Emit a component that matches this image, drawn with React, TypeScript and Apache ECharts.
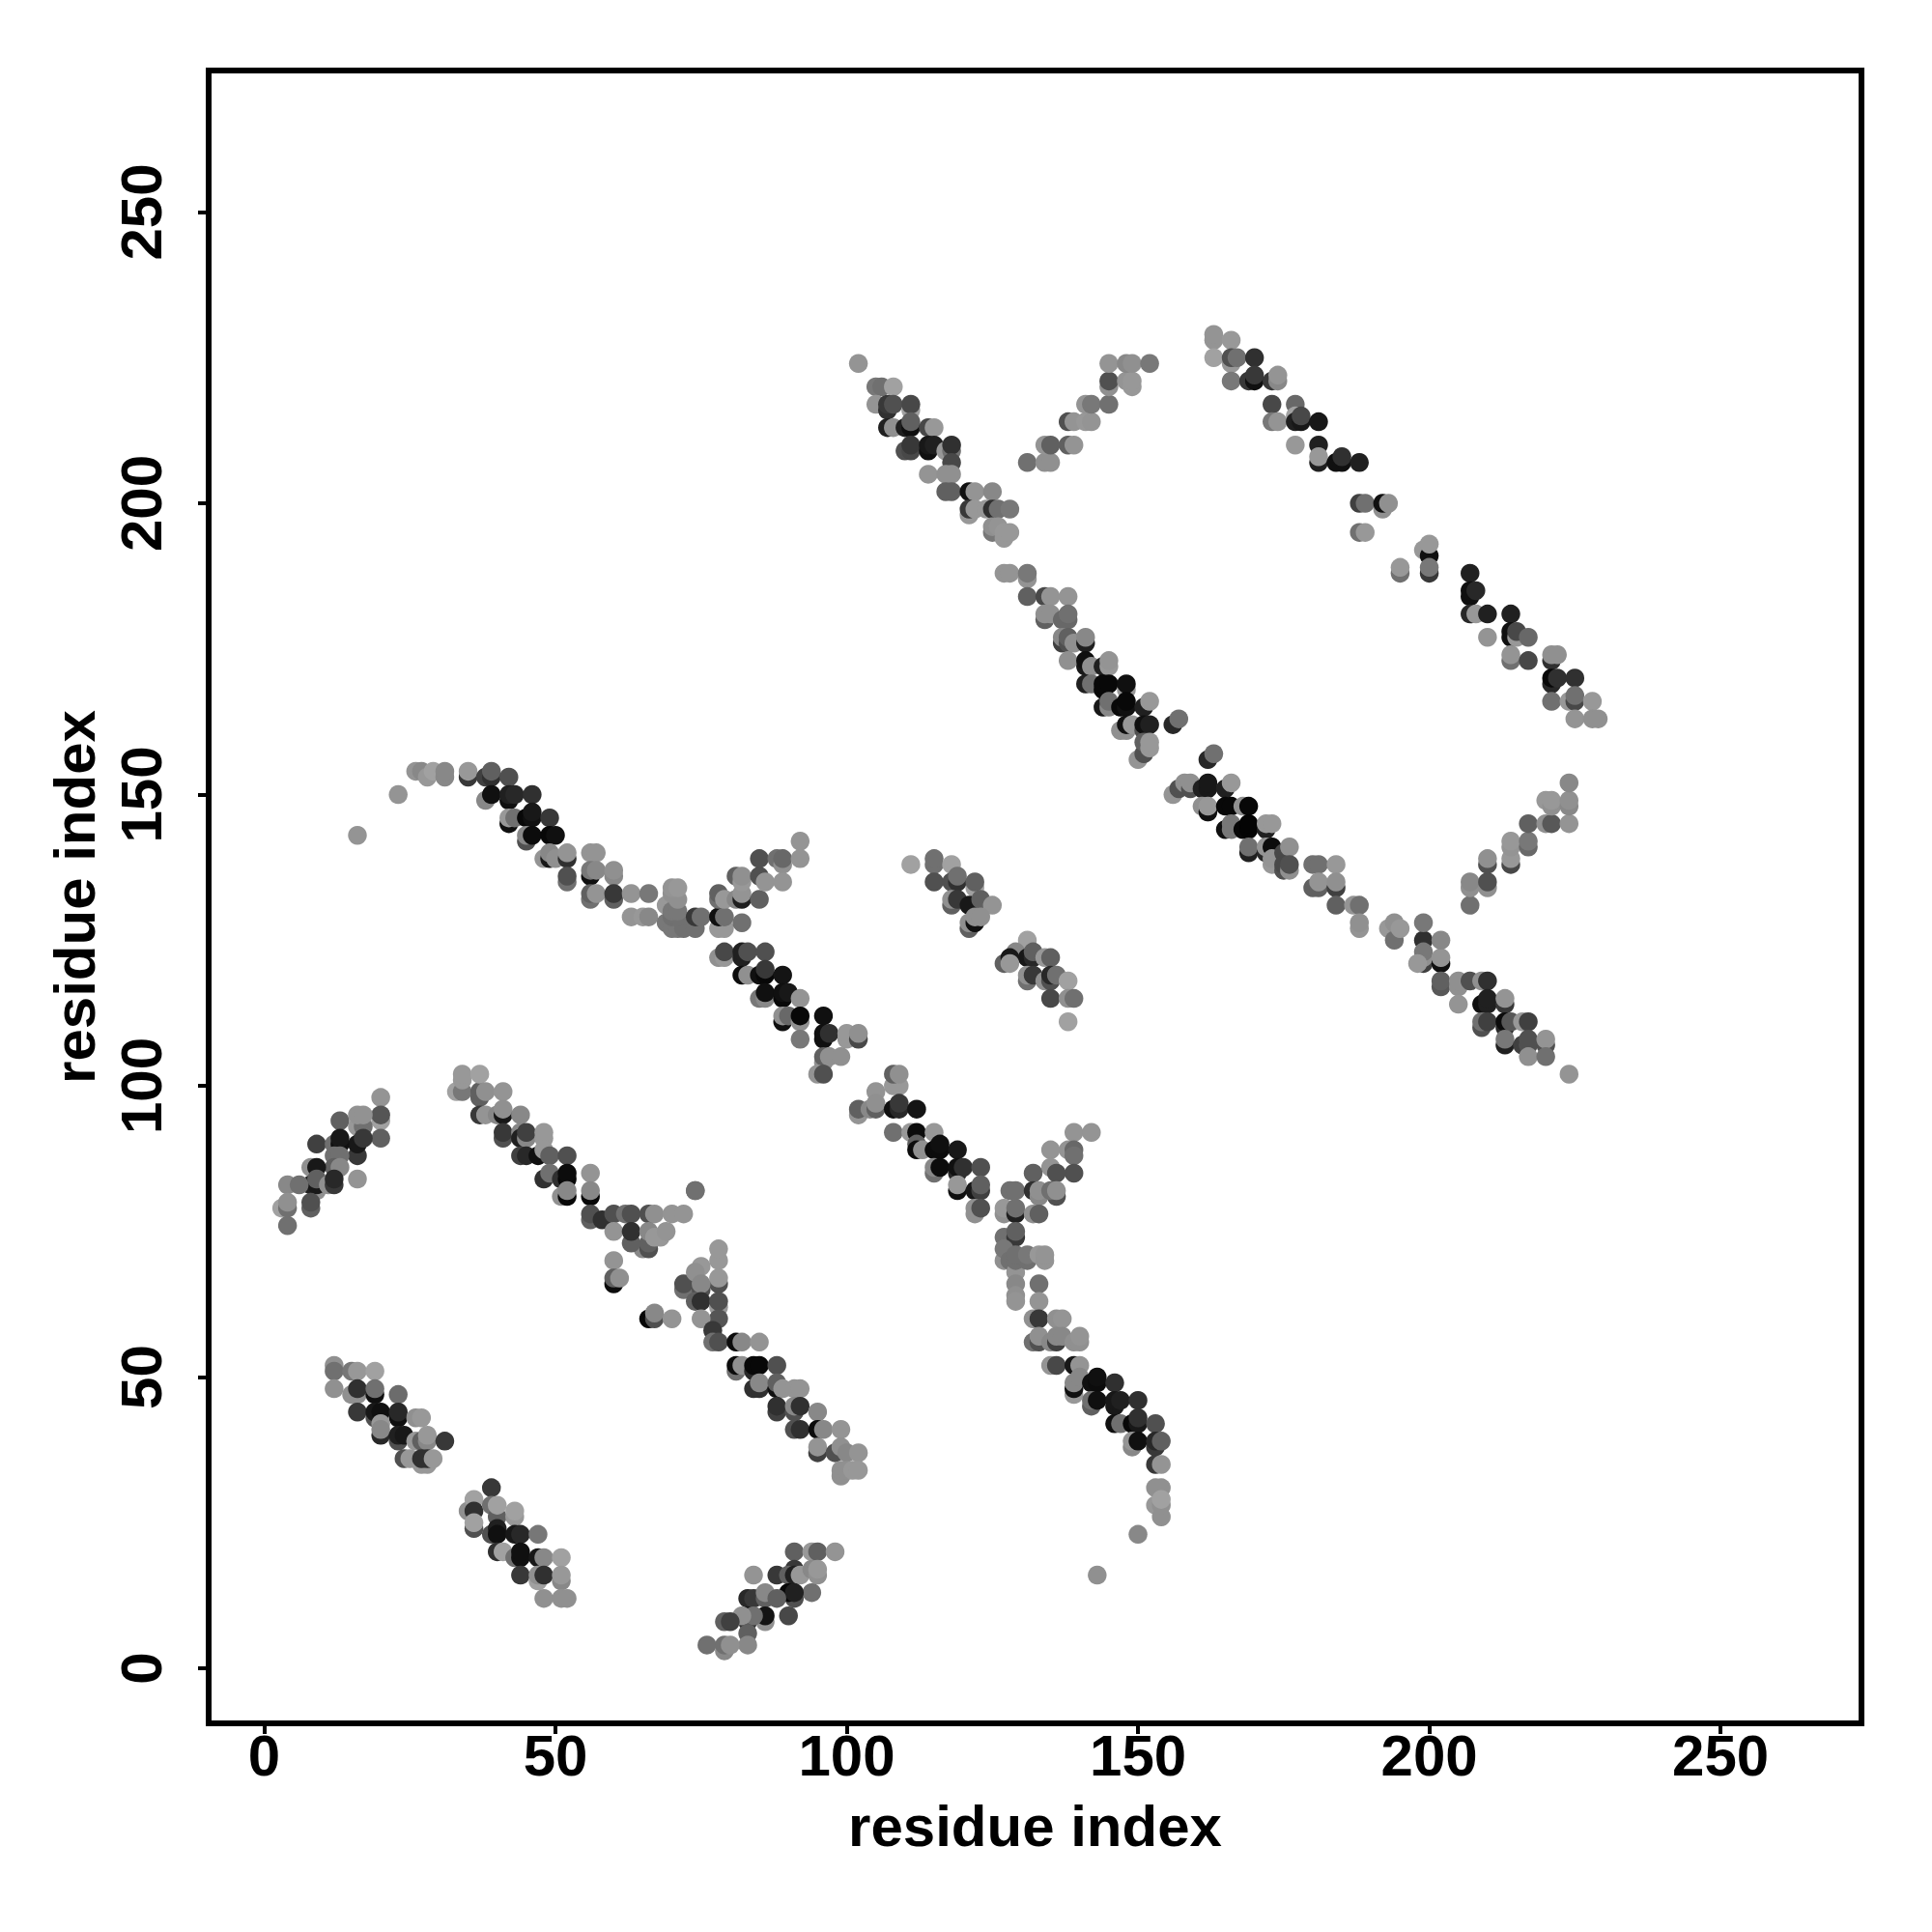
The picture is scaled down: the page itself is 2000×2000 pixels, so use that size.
import React, { useEffect, useRef } from "react";
import * as echarts from "echarts";

const tickValues = [0, 50, 100, 150, 200, 250];
const axisTitle = "residue index";

// each point: [residue i, residue j, grey level]
const clusterA = [[12,52,0x88],[12,51,0x70],[12,48,0x88],[15,51,0x77],[16,51,0x90],[19,51,0x99],[15,47,0x88],[16,47,0x88],[16,48,0x30],[19,47,0x10],[19,48,0x70],[23,47,0x6c],[16,44,0x38],[19,43,0x50],[19,44,0x18],[20,44,0x10],[23,43,0x10],[23,44,0x28],[20,40,0x28],[20,42,0x90],[20,41,0x80],[26,43,0x88],[27,43,0x90],[23,39,0x50],[23,40,0x20],[24,40,0x18],[26,39,0x90],[27,39,0x60],[28,39,0x80],[28,40,0x90],[31,39,0x38],[24,36,0x50],[25,36,0x90],[27,35,0x90],[28,35,0x90],[27,36,0x30],[28,36,0x30],[29,36,0x90]];
const clusterB = [[39,31,0x38],[35,27,0x88],[36,29,0x99],[36,27,0x30],[36,24,0x50],[36,25,0x99],[39,28,0x70],[40,26,0x60],[40,28,0x99],[39,23,0x50],[40,24,0x20],[40,23,0x10],[43,26,0x90],[43,27,0x99],[43,23,0x18],[44,23,0x28],[47,23,0x77],[40,20,0x30],[41,20,0x99],[43,19,0x70],[44,19,0x10],[44,20,0x10],[47,19,0x18],[48,19,0x80],[51,19,0x99],[44,16,0x38],[47,15,0x99],[47,16,0x88],[48,16,0x30],[51,15,0x80],[51,16,0x90],[48,12,0x88],[51,12,0x88],[52,12,0x88]];
const clusterC = [[20,98,0x8c],[20,94,0x99],[20,95,0x55],[20,91,0x60],[13,94,0x60],[16,93,0x90],[17,93,0x70],[16,95,0x8a],[17,95,0x8a],[16,88,0x38],[16,90,0x18],[17,91,0x38],[16,84,0x8c],[9,90,0x40],[12,90,0x70],[13,90,0x10],[13,91,0x18],[12,88,0x70],[13,88,0x70],[12,86,0x60],[13,86,0x80],[8,86,0x88],[9,86,0x18],[9,82,0x88],[8,83,0x20],[9,83,0x18],[9,84,0x60],[11,83,0x88],[12,83,0x38],[12,84,0x28],[4,83,0x80],[6,83,0x70],[3,79,0x99],[4,79,0x70],[4,80,0x88],[4,76,0x70],[8,79,0x60],[8,80,0x50]];
const clusterD = [[33,99,0x99],[34,99,0x78],[34,101,0x90],[34,102,0x90],[37,98,0x60],[37,99,0x60],[37,102,0x99],[38,99,0x88],[41,99,0x8c],[37,95,0x38],[38,95,0x8c],[40,95,0x80],[41,95,0x18],[41,96,0x88],[44,95,0x80],[41,91,0x50],[41,92,0x38],[44,92,0x80],[44,91,0x20],[45,91,0x80],[45,92,0x40],[48,91,0x90],[48,92,0x90],[44,88,0x40],[45,88,0x28],[47,88,0x10],[48,89,0x90],[49,88,0x60],[52,88,0x50],[48,84,0x30],[49,85,0x70],[51,84,0x30],[52,84,0x08],[52,85,0x0c],[51,81,0x88],[52,81,0x08],[52,82,0x80],[56,85,0x8c],[56,81,0x08],[56,82,0x80],[56,77,0x60],[56,78,0x50],[58,77,0x30],[60,78,0x50],[62,78,0x70],[63,78,0x50],[66,78,0x50],[67,78,0x88],[70,78,0x8c],[72,78,0x8c],[74,82,0x70],[60,75,0x8c],[65,72,0x80],[66,72,0x50],[63,73,0x60],[63,75,0x30],[66,73,0x60],[66,75,0x80],[67,74,0x90],[68,74,0x90],[69,75,0x8c],[60,70,0x8c],[60,66,0x0c],[60,67,0x60],[61,67,0x88],[66,60,0x08],[67,60,0x50],[67,61,0x80],[70,60,0x8c]];
const clusterE = [[74,82,0x70],[78,70,0x90],[78,72,0x90],[75,69,0x90],[78,66,0x50],[78,67,0x90],[72,65,0x70],[72,66,0x50],[74,68,0x88],[75,65,0x50],[75,66,0x80],[74,63,0x60],[75,63,0x30],[78,62,0x90],[78,63,0x50],[78,60,0x55],[75,60,0x8c],[77,58,0x38],[77,56,0x70],[78,56,0x50],[81,56,0x0c],[82,56,0x80],[85,56,0x8c],[81,51,0x70],[81,52,0x0c],[82,52,0x88],[84,51,0x28],[84,52,0x08],[85,52,0x08],[88,52,0x50],[84,48,0x30],[85,48,0x30],[85,49,0x80],[88,48,0x10],[88,49,0x60],[89,48,0x8c],[91,48,0x8c],[92,48,0x8c],[88,44,0x40],[88,45,0x30],[91,44,0x50],[91,45,0x80],[92,45,0x30],[95,44,0x80],[91,41,0x50],[92,41,0x30],[95,41,0x0c],[96,41,0x80],[99,41,0x8c],[95,37,0x40],[95,38,0x8c],[98,37,0x50],[99,38,0x88],[100,37,0x80],[102,37,0x8c],[99,33,0x88],[99,34,0x88],[100,34,0x88],[101,34,0x90],[102,34,0x90]];
const clusterF = [[91,20,0x60],[94,20,0x90],[95,20,0x60],[98,20,0x8c],[84,16,0x8c],[88,16,0x38],[91,17,0x38],[90,16,0x60],[91,16,0x20],[92,16,0x90],[94,17,0x80],[95,16,0x88],[95,17,0x90],[94,13,0x70],[91,12,0x50],[90,13,0x08],[91,13,0x20],[83,12,0x28],[84,12,0x38],[86,12,0x60],[86,13,0x80],[88,12,0x60],[90,9,0x48],[86,8,0x88],[86,9,0x14],[83,8,0x30],[83,9,0x18],[84,9,0x70],[82,9,0x88],[79,8,0x60],[80,8,0x40],[83,6,0x60],[83,4,0x80],[76,4,0x70],[79,3,0x80],[79,4,0x70],[80,4,0x88]];
const clusterG = [[108,100,0x90],[109,100,0x90],[108,102,0x60],[109,102,0x88],[105,99,0x8c],[102,95,0x8c],[102,96,0x60],[104,96,0x80],[105,96,0x60],[105,97,0x88],[108,96,0x10],[109,96,0x28],[109,97,0x38],[112,96,0x14],[108,92,0x70],[111,92,0x90],[112,92,0x0c],[115,92,0x90],[112,90,0x60],[112,89,0x0c],[113,89,0x88],[115,89,0x0c],[116,89,0x0c],[116,90,0x10],[119,89,0x18],[115,85,0x70],[115,86,0x80],[116,86,0x0c],[119,85,0x28],[119,86,0x10],[120,86,0x30],[123,86,0x50],[119,82,0x10],[119,83,0x90],[122,82,0x18],[123,82,0x40],[123,83,0x60],[122,78,0x88],[122,79,0x88],[123,79,0x50],[139,92,0x8c],[142,92,0x8c],[135,89,0x8c],[138,89,0x8c],[139,89,0x68],[139,88,0x70],[139,85,0x50],[135,86,0x8c],[136,85,0x50],[132,85,0x60],[128,82,0x70],[129,82,0x70],[132,82,0x30],[133,81,0x80],[133,82,0x88],[136,81,0x50],[135,82,0x70],[136,82,0x88],[127,78,0x88],[127,79,0x90],[129,78,0x20],[129,79,0x70],[132,78,0x88],[133,78,0x60],[127,74,0x70],[129,74,0x38],[129,75,0x60],[127,70,0x88],[127,72,0x78],[128,70,0x70],[129,68,0x8c],[129,70,0x70],[129,71,0x70],[131,70,0x70],[131,71,0x78],[133,71,0x90],[134,70,0x8c],[134,71,0x8c],[129,66,0x80],[129,64,0x88],[129,63,0x8c],[133,66,0x70],[133,63,0x8c],[132,60,0x88],[133,60,0x38],[136,60,0x88],[137,60,0x8c],[132,56,0x70],[133,56,0x50],[133,57,0x88],[135,56,0x80],[136,56,0x40],[136,57,0x80],[137,57,0x80],[139,56,0x88],[140,56,0x88],[140,57,0x8c],[135,52,0x8c],[136,52,0x48],[139,52,0x18],[140,52,0x8c],[139,47,0x90],[139,48,0x10],[139,49,0x80],[140,50,0x80],[142,49,0x10],[143,49,0x0c],[143,50,0x10],[146,49,0x30],[142,45,0x60],[142,46,0x70],[143,46,0x10],[146,45,0x18],[146,46,0x18],[147,46,0x20],[150,46,0x30],[146,42,0x10],[147,42,0x70],[149,42,0x08],[150,42,0x18],[150,43,0x30],[153,42,0x50],[149,38,0x80],[149,39,0x8c],[150,39,0x10],[153,38,0x38],[153,39,0x28],[154,39,0x60],[153,35,0x38],[154,35,0x8c],[153,31,0x88],[154,31,0x88],[153,28,0x90],[154,26,0x88],[154,28,0x88],[154,29,0x99],[150,23,0x80],[143,16,0x88]];
const clusterH = [[16,143,0x8c],[23,150,0x8c],[26,154,0x8c],[27,154,0x80],[28,153,0x90],[29,154,0x99],[31,153,0x80],[31,154,0x80],[35,153,0x38],[35,154,0x90],[38,153,0x40],[39,153,0x30],[39,154,0x60],[42,153,0x50],[38,149,0x80],[39,150,0x10],[42,149,0x10],[42,150,0x20],[43,150,0x28],[46,150,0x30],[42,145,0x10],[42,146,0x90],[43,146,0x70],[45,146,0x08],[46,146,0x10],[46,147,0x18],[49,146,0x38],[45,142,0x50],[45,143,0x80],[46,143,0x0c],[49,143,0x08],[50,143,0x10],[48,139,0x8c],[49,139,0x18],[49,140,0x80],[50,139,0x88],[52,139,0x30],[52,140,0x8c],[52,135,0x70],[52,136,0x50],[56,140,0x8c],[57,140,0x8c],[56,136,0x10],[56,137,0x78],[57,137,0x80],[60,136,0x80],[60,137,0x88],[56,132,0x70],[56,133,0x60],[57,133,0x8c],[60,132,0x60],[60,133,0x38],[63,133,0x8c],[66,133,0x78],[63,129,0x8c],[65,129,0x90],[66,129,0x80],[69,131,0x90],[69,128,0x78],[70,127,0x78],[71,127,0x78],[72,127,0x70],[70,129,0x70],[71,129,0x70],[70,130,0x78],[71,130,0x78],[70,133,0x88],[71,132,0x88],[70,134,0x8c],[71,134,0x90],[74,127,0x70],[74,129,0x38],[75,129,0x70],[78,127,0x90],[79,127,0x90],[78,129,0x10],[79,129,0x70],[78,132,0x70],[78,133,0x60],[79,132,0x90],[82,128,0x70],[81,132,0x80],[82,132,0x20],[82,133,0x8c],[81,136,0x60],[82,135,0x90],[82,136,0x88],[85,132,0x60],[85,136,0x50],[86,135,0x8c],[85,139,0x50],[88,139,0x70],[89,138,0x88],[89,139,0x68],[89,135,0x8c],[92,142,0x8c],[92,139,0x8c],[78,122,0x88],[79,122,0x90],[79,123,0x48],[82,122,0x20],[82,123,0x20],[83,123,0x50],[86,123,0x50],[82,119,0x0c],[83,119,0x88],[85,119,0x10],[86,119,0x08],[86,120,0x38],[89,119,0x14],[85,115,0x78],[86,115,0x80],[86,116,0x10],[89,115,0x08],[89,116,0x10],[90,116,0x18],[92,115,0x8c],[89,111,0x10],[89,112,0x88],[90,112,0x68],[92,111,0x88],[92,112,0x08],[96,112,0x10],[92,108,0x78],[96,108,0x10],[96,109,0x10],[97,109,0x30],[100,108,0x90],[100,109,0x90],[102,108,0x48],[102,109,0x88],[96,104,0x88],[96,105,0x60],[97,105,0x88],[99,105,0x88],[95,102,0x8c],[96,102,0x50]];
const clusterI = [[111,138,0x99],[115,138,0x70],[115,139,0x70],[118,138,0x99],[115,135,0x50],[118,135,0x50],[119,135,0x30],[119,136,0x70],[122,134,0x99],[122,135,0x60],[118,131,0x60],[118,132,0x88],[119,132,0x38],[121,131,0x18],[123,132,0x60],[125,131,0x8c],[121,127,0x60],[121,128,0x88],[122,128,0x10],[122,129,0x88],[123,129,0x88],[131,125,0x99],[129,123,0x80],[131,122,0x18],[132,122,0x28],[132,123,0x60],[127,121,0x60],[128,122,0x18],[128,121,0x90],[134,122,0x90],[135,122,0x60],[131,118,0x70],[131,119,0x88],[132,119,0x38],[134,118,0x88],[135,118,0x50],[135,119,0x28],[136,119,0x70],[138,118,0x99],[135,115,0x48],[138,115,0x88],[139,115,0x70],[138,111,0x99]];
const clusterJ = [[102,224,0x8c],[105,220,0x78],[106,220,0x70],[108,220,0x99],[105,217,0x8c],[107,216,0x30],[107,217,0x38],[108,217,0x50],[111,216,0x99],[111,217,0x48],[107,213,0x20],[108,213,0x88],[110,213,0x20],[111,213,0x10],[111,214,0x60],[114,213,0x48],[115,213,0x90],[110,209,0x50],[111,209,0x48],[111,210,0x38],[114,209,0x10],[114,210,0x18],[115,210,0x20],[117,209,0x90],[118,209,0x70],[118,210,0x30],[118,207,0x48],[114,205,0x8c],[117,205,0x88],[118,205,0x88],[117,202,0x60],[118,202,0x60],[121,202,0x10],[122,202,0x8c],[125,202,0x80],[121,198,0x90],[121,199,0x38],[122,199,0x90],[124,199,0x90],[125,199,0x30],[126,199,0x70],[128,199,0x78],[125,195,0x78],[125,196,0x88],[126,196,0x8c],[127,194,0x90],[127,195,0x90],[128,195,0x90],[131,207,0x70],[134,207,0x88],[135,207,0x88],[134,210,0x8c],[135,210,0x60],[138,210,0x60],[139,210,0x8c],[138,214,0x50],[139,214,0x8c],[141,214,0x90],[142,214,0x8c],[141,217,0x8c],[142,217,0x78],[145,217,0x70],[145,220,0x88],[145,221,0x50],[148,221,0x8c],[149,220,0x90],[149,221,0x90],[145,224,0x8c],[148,224,0x80],[149,224,0x88],[152,224,0x78],[127,188,0x8c],[128,188,0x8c],[131,187,0x8c],[131,188,0x78],[131,184,0x60],[134,184,0x48],[135,184,0x8c],[138,184,0x8c],[134,180,0x60],[134,181,0x88],[135,181,0x88],[137,180,0x68],[138,180,0x68],[138,181,0x70],[137,176,0x40],[137,177,0x80],[138,176,0x50],[138,177,0x60],[139,176,0x88],[141,176,0x20],[141,177,0x80],[138,173,0x88],[141,172,0x18],[141,173,0x10],[142,172,0x88],[144,172,0x20],[145,172,0x90],[145,173,0x8c],[141,169,0x20],[142,169,0x70],[144,168,0x08],[144,169,0x08],[145,169,0x08],[148,168,0x90],[148,169,0x10],[144,165,0x18],[145,165,0x80],[145,166,0x70],[147,165,0x08],[148,165,0x10],[148,166,0x08],[151,165,0x20],[152,166,0x90],[147,161,0x88],[148,161,0x88],[148,162,0x10],[149,162,0x90],[151,161,0x50],[151,162,0x10],[152,162,0x20],[156,162,0x28],[157,163,0x70],[150,156,0x8c],[151,157,0x50],[151,159,0x60],[152,158,0x90],[152,159,0x90]];
const clusterL = [[162,156,0x28],[163,157,0x70],[156,150,0x8c],[157,151,0x50],[158,152,0x88],[159,151,0x50],[159,152,0x88],[161,151,0x20],[162,151,0x18],[162,152,0x18],[165,151,0x20],[166,152,0x90],[161,148,0x88],[162,147,0x90],[162,147,0x10],[162,148,0x90],[165,148,0x08],[166,148,0x08],[168,148,0x88],[169,148,0x08],[165,144,0x10],[166,144,0x78],[166,145,0x78],[168,144,0x08],[169,144,0x04],[169,145,0x04],[172,144,0x20],[172,145,0x90],[173,145,0x90],[169,140,0x20],[169,141,0x70],[172,140,0x28],[172,141,0x8c],[173,141,0x0c],[173,138,0x90],[173,139,0x8c],[175,140,0x48],[176,141,0x88],[175,137,0x50],[175,138,0x48],[176,137,0x88],[176,138,0x50],[180,138,0x70],[181,138,0x70],[184,138,0x90],[180,134,0x60],[181,134,0x60],[181,135,0x8c],[184,134,0x40],[184,135,0x88],[184,131,0x60],[187,131,0x8c],[188,131,0x70],[188,127,0x8c],[188,128,0x88],[193,127,0x90],[194,125,0x70],[194,128,0x88],[195,127,0x90],[199,125,0x30],[199,128,0x78],[199,121,0x40],[199,122,0x88],[199,123,0x78],[198,121,0x90],[202,121,0x10],[202,122,0x8c],[202,125,0x80],[202,117,0x58],[202,118,0x60],[205,117,0x88],[205,118,0x88],[205,114,0x8c],[207,118,0x50],[209,118,0x88],[210,118,0x30],[209,114,0x10],[210,114,0x20],[210,115,0x20],[213,114,0x38],[213,115,0x8c],[209,110,0x50],[209,111,0x70],[210,111,0x40],[213,110,0x28],[213,111,0x0c],[214,111,0x58],[216,111,0x90],[217,111,0x40],[213,107,0x20],[213,108,0x78],[216,107,0x40],[217,107,0x50],[217,108,0x50],[220,107,0x50],[220,108,0x8c],[217,105,0x88],[220,105,0x70],[224,102,0x8c],[207,131,0x70],[207,134,0x88],[207,135,0x80],[210,134,0x88],[210,135,0x50],[210,138,0x50],[210,139,0x88],[214,138,0x48],[214,139,0x90],[214,141,0x8c],[214,142,0x90],[217,141,0x68],[217,142,0x78],[217,145,0x60],[220,145,0x88],[221,145,0x58],[224,145,0x8c],[220,149,0x90],[221,148,0x88],[221,149,0x90],[224,148,0x80],[224,149,0x88],[224,152,0x80]];
const clusterK = [[163,228,0x8c],[163,229,0x8c],[166,228,0x90],[163,225,0x99],[166,224,0x90],[166,225,0x50],[167,225,0x70],[170,225,0x30],[166,221,0x78],[169,221,0x38],[170,221,0x10],[170,222,0x38],[173,221,0x38],[174,221,0x80],[174,222,0x8c],[173,217,0x48],[177,217,0x68],[173,214,0x78],[174,214,0x8c],[177,215,0x99],[177,214,0x20],[178,214,0x18],[178,215,0x48],[181,214,0x18],[177,210,0x90],[181,210,0x20],[181,207,0x20],[181,208,0x90],[184,207,0x10],[185,207,0x10],[185,208,0x30],[188,207,0x20],[188,200,0x40],[189,200,0x70],[192,199,0x88],[192,200,0x10],[193,200,0x88],[188,195,0x70],[189,195,0x90],[195,188,0x70],[195,189,0x90],[199,192,0x90],[200,191,0x10],[200,193,0x90],[200,188,0x38],[200,189,0x78],[207,188,0x20],[207,184,0x10],[207,185,0x10],[208,185,0x28],[207,181,0x28],[208,181,0x90],[210,181,0x20],[214,181,0x20],[210,177,0x8c],[214,177,0x10],[214,178,0x10],[215,177,0x90],[215,178,0x48],[217,177,0x68],[214,173,0x70],[214,174,0x8c],[217,173,0x48],[221,173,0x30],[221,174,0x88],[222,174,0x88],[221,169,0x28],[221,170,0x08],[222,170,0x30],[225,170,0x30],[221,166,0x70],[224,166,0x90],[225,166,0x48],[225,167,0x70],[228,166,0x90],[225,163,0x8c],[228,163,0x88],[229,163,0x88]];

const clusters = [clusterC, clusterA, clusterB, clusterD, clusterE, clusterF, clusterG, clusterH, clusterI, clusterJ, clusterL, clusterK];

const FONT = "Liberation Sans";
const shade = (g: number) => (g >= 0x80 ? g + 8 : g);

export default function App() {
  const ref = useRef<HTMLDivElement>(null);
  useEffect(() => {
    const chart = echarts.init(ref.current!, null, { renderer: "svg" });
    const axisBase = {
      type: "value" as const,
      name: axisTitle,
      nameLocation: "middle" as const,
      nameTextStyle: { fontFamily: FONT, fontWeight: "bold" as const, fontSize: 60, color: "#000" },
      splitLine: { show: false },
      axisLine: { show: false, onZero: false },
      axisTick: { show: true, length: 11, lineStyle: { color: "#000", width: 4 }, customValues: tickValues },
    };
    chart.setOption({
      animation: false,
      backgroundColor: "#fff",
      grid: { show: true, left: 216, top: 73, width: 1711, height: 1711, borderColor: "#000", borderWidth: 6, backgroundColor: "#fff" },
      xAxis: {
        ...axisBase,
        min: -9.54,
        max: 274.2,
        nameGap: 76,
        axisLabel: { customValues: tickValues, fontFamily: FONT, fontWeight: "bold", fontSize: 60, color: "#000", margin: 3 },
      },
      yAxis: {
        ...axisBase,
        min: -9.45,
        max: 274.3,
        nameGap: 109,
        nameRotate: 90,
        axisLabel: { customValues: tickValues, rotate: 90, fontFamily: FONT, fontWeight: "bold", fontSize: 60, color: "#000", margin: 40 },
      },
      series: [
        {
          type: "scatter",
          symbol: "circle",
          symbolSize: 19.5,
          silent: true,
          data: clusters.flat().map(([x, y, g]) => ({
            value: [x, y],
            itemStyle: { color: `rgb(${shade(g)},${shade(g)},${shade(g)})`, opacity: 1 },
          })),
        },
      ],
    });
    return () => chart.dispose();
  }, []);
  return <div ref={ref} style={{ position: "fixed", left: 0, top: 0, width: 2000, height: 2000, background: "#fff" }} />;
}
